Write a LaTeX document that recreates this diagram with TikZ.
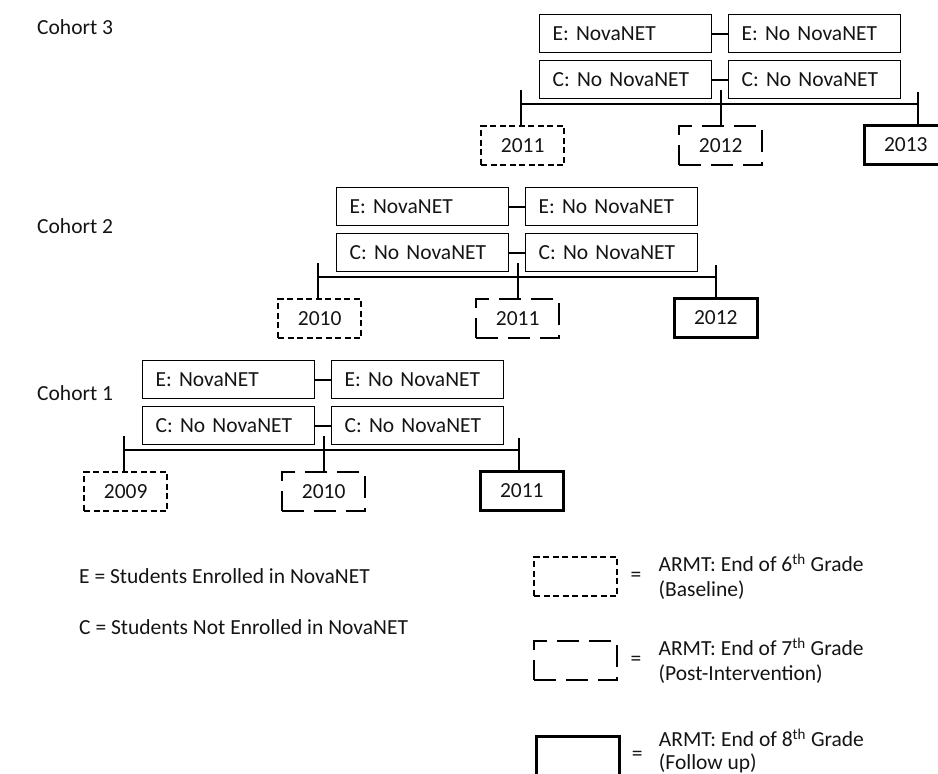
\documentclass[tikz,border=0pt]{standalone}
\usepackage{fontspec}
\setmainfont{Carlito}
\usetikzlibrary{positioning}
\definecolor{mainBlack}{gray}{0.08}

\tikzset{
    group/.style={draw, line width=1.3pt, text width=146pt, align=left, inner xsep=13pt, inner ysep=0pt, minimum height=38pt, anchor=north west},
    yearbox/.style={draw, line width=2.3pt, minimum width=83pt, minimum height=39pt, inner sep=0pt, anchor=north west},
    yearbase/.style={yearbox, dash pattern=on 6pt off 3.5pt},
    yearpost/.style={yearbox, dash pattern=on 22pt off 10pt},
    yearfollow/.style={yearbox, line width=2.6pt},
    link/.style={line width=2pt},
    tick/.style={line width=1.3pt},
    keytext/.style={inner sep=0pt, align=left}
}

\begin{document}
\begin{tikzpicture}[x=1pt, y=-1pt, font=\fontsize{21.5}{24.5}\selectfont, text=mainBlack]
    \useasboundingbox (0,0) rectangle (938,774);

    % cohorts: number / box corner / label height / last box offset / last tick offset
    \foreach \n/\bx/\by/\ly/\rx/\rt in {3/539/14/27/324/379, 2/336/187/226/337/380, 1/142/360/393/337/377} {
        \pgfmathtruncatemacro{\ya}{2008+\n}
        \pgfmathtruncatemacro{\yb}{2009+\n}
        \pgfmathtruncatemacro{\yc}{2010+\n}
        \node[anchor=west, inner sep=0pt] (cohort\n) at (37,\ly) {Cohort \n};
        \begin{scope}[shift={(\bx,\by)}]
            \node[group] (en\n) at (0,0) {E: NovaNET};
            \node[group] (enn\n) at (189,0) {E: No NovaNET};
            \node[group] (cn\n) at (0,46) {C: No NovaNET};
            \node[group] (cnn\n) at (189,46) {C: No NovaNET};
            \draw[link] (en\n.east) -- (enn\n.west);
            \draw[link] (cn\n.east) -- (cnn\n.west);

            \node[yearbase] (base\n) at (-59,111) {\ya};
            \node[yearpost] (post\n) at (139,111) {\yb};
            \node[yearfollow] (follow\n) at (\rx,110) {\yc};

            % timeline
            \coordinate (tl\n) at (-18,90);
            \coordinate (tm\n) at (182,90);
            \coordinate (tr\n) at (\rt,90);
            \draw[tick] (tl\n) -- (tr\n);
            \draw[tick] ([yshift=14pt]tl\n) -- (tl\n |- base\n.north);
            \draw[tick] ([yshift=14pt]tm\n) -- (tm\n |- post\n.north);
            \draw[tick] ([yshift=12pt]tr\n) -- (tr\n |- follow\n.north);
        \end{scope}
    }

    % legend
    \node[anchor=west, inner sep=0pt] (keye) at (79,576) {E = Students Enrolled in NovaNET};
    \node[anchor=west, inner sep=0pt] (keyc) at (79,627) {C = Students Not Enrolled in NovaNET};

    \node[yearbase] (keybase) at (533,556) {};
    \node[right=12pt of keybase, inner sep=0pt] (eqbase) {=};
    \node[keytext, right=17pt of eqbase] {ARMT: End of 6\textsuperscript{th} Grade\\(Baseline)};

    \node[yearpost] (keypost) at (533,640) {};
    \node[right=12pt of keypost, inner sep=0pt] (eqpost) {=};
    \node[keytext, right=17pt of eqpost] {ARMT: End of 7\textsuperscript{th} Grade\\(Post-Intervention)};

    \node[yearfollow] (keyfollow) at (535,735) {};
    \node[right=11pt of keyfollow, inner sep=0pt] (eqfollow) {=};
    \node[keytext, right=16pt of eqfollow, yshift=5pt, font=\fontsize{21.5}{23}\selectfont] {ARMT: End of 8\textsuperscript{th} Grade\\(Follow up)};
\end{tikzpicture}
\end{document}
